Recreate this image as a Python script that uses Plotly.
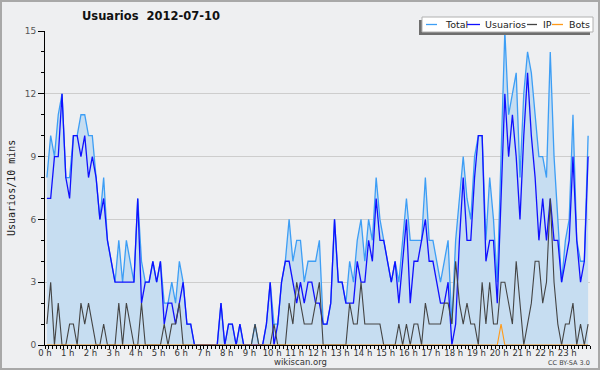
import plotly.graph_objects as go

# 10-minute slots, 0h00 .. 23h50 (144 points)
slot_hours = [(i + 0.5) / 6 for i in range(144)]

total = [8, 10, 9, 11, 12, 8, 8, 10, 10, 11,
         11, 10, 10, 8, 6, 8, 5, 4, 3, 5,
         3, 5, 4, 3, 7, 4, 3, 3, 4, 3,
         4, 2, 2, 3, 2, 4, 3, 1, 1, 0,
         0, 0, 0, 0, 0, 0, 2, 0, 1, 1,
         0, 1, 0, 0, 0, 1, 0, 0, 1, 3,
         1, 1, 3, 4, 6, 4, 5, 5, 3, 4,
         4, 4, 5, 1, 1, 2, 6, 3, 3, 2,
         4, 3, 5, 6, 4, 6, 5, 8, 6, 5,
         4, 3, 4, 3, 5, 7, 5, 5, 5, 5,
         8, 5, 5, 4, 3, 4, 5, 1, 5, 7,
         9, 7, 6, 9, 10, 10, 5, 8, 6, 3,
         9, 15, 11, 12, 13, 8, 12, 14, 13, 11,
         9, 9, 8, 14, 9, 6, 3, 5, 6, 11,
         5, 4, 4, 10]

usuarios = [7, 7, 9, 9, 12, 8, 7, 10, 10, 9,
            10, 8, 9, 8, 6, 7, 5, 4, 3, 3,
            3, 3, 3, 3, 7, 2, 3, 3, 4, 3,
            4, 1, 2, 2, 1, 2, 3, 1, 1, 0,
            0, 0, 0, 0, 0, 0, 2, 0, 1, 1,
            0, 1, 0, 0, 0, 0, 0, 0, 1, 3,
            0, 1, 3, 4, 4, 3, 2, 3, 2, 3,
            3, 2, 2, 1, 1, 2, 6, 3, 3, 2,
            2, 2, 4, 3, 3, 5, 4, 7, 5, 5,
            4, 3, 4, 2, 4, 6, 2, 4, 4, 5,
            6, 4, 4, 3, 2, 2, 3, 0, 1, 5,
            8, 5, 5, 8, 10, 10, 4, 5, 5, 2,
            7, 12, 9, 11, 9, 6, 10, 13, 10, 8,
            5, 7, 5, 7, 5, 5, 3, 4, 5, 9,
            5, 3, 4, 9]

ip = [1, 3, 0, 2, 0, 0, 1, 1, 0, 2,
      1, 2, 1, 0, 0, 1, 0, 0, 0, 2,
      0, 2, 1, 0, 0, 2, 0, 0, 0, 0,
      0, 1, 0, 1, 1, 2, 0, 0, 0, 0,
      0, 0, 0, 0, 0, 0, 0, 0, 0, 0,
      0, 0, 0, 0, 0, 1, 0, 0, 0, 0,
      1, 0, 0, 0, 2, 1, 3, 2, 1, 1,
      1, 2, 3, 0, 0, 0, 0, 0, 0, 0,
      2, 1, 1, 3, 1, 1, 1, 1, 1, 0,
      0, 0, 0, 1, 0, 1, 0, 1, 1, 0,
      2, 1, 1, 1, 1, 2, 2, 1, 4, 2,
      1, 2, 1, 1, 0, 3, 1, 3, 1, 1,
      3, 3, 2, 1, 4, 2, 0, 1, 2, 4,
      4, 2, 3, 7, 3, 1, 0, 1, 1, 2,
      0, 1, 0, 1]

bots = [0] * 120 + [1] + [0] * 23

hour_ticks = list(range(24))
hour_labels = [f"{h} h" for h in hour_ticks]

BG = "#eeeff1"
C_TOTAL = "#3d9ef5"
C_FILL = "#c6ddf1"
C_USU = "#1010ff"
C_IP = "#444444"
C_BOTS = "#ff9a1a"

fig = go.Figure()
fig.add_trace(go.Scatter(x=slot_hours, y=total, mode="lines", fill="tozeroy",
                         fillcolor=C_FILL, line=dict(color=C_TOTAL, width=1.3),
                         name="Total"))
fig.add_trace(go.Scatter(x=slot_hours, y=usuarios, mode="lines",
                         line=dict(color=C_USU, width=1.3), name="Usuarios"))
fig.add_trace(go.Scatter(x=slot_hours, y=ip, mode="lines",
                         line=dict(color=C_IP, width=1.1), name="IP"))
fig.add_trace(go.Scatter(x=slot_hours, y=bots, mode="lines",
                         line=dict(color=C_BOTS, width=1.1), name="Bots"))

L, R, T, B = 45, 10, 31, 25
W, H = 600, 370
PW, PH = W - L - R, H - T - B


def px(x):
    return (x - L) / PW


def py(y):
    return (H - B - y) / PH


shapes = []
annotations = []

# outer frame
shapes.append(dict(type="rect", xref="paper", yref="paper", x0=px(1), x1=px(599),
                   y0=py(1), y1=py(369), line=dict(color="#a8a8a8", width=2),
                   fillcolor="rgba(0,0,0,0)", layer="above"))

# legend shadow + box
shapes.append(dict(type="rect", xref="paper", yref="paper", x0=px(419), x1=px(590),
                   y0=py(35), y1=py(20), line=dict(width=0), fillcolor="#6e6e6e",
                   layer="above"))
shapes.append(dict(type="rect", xref="paper", yref="paper", x0=px(422), x1=px(593),
                   y0=py(32), y1=py(17), line=dict(color="#b0b0b0", width=1),
                   fillcolor="white", layer="above"))

legend_items = [("Total", C_TOTAL, 426, 437, 443),
                ("Usuarios", C_USU, 467, 480, 483),
                ("IP", C_IP, 527, 537, 541),
                ("Bots", C_BOTS, 552, 563, 567)]
for name, col, lx0, lx1, tx in legend_items:
    shapes.append(dict(type="line", xref="paper", yref="paper", x0=px(lx0), x1=px(lx1),
                       y0=py(24.5), y1=py(24.5), line=dict(color=col, width=1.3),
                       layer="above"))
    annotations.append(dict(text=name, xref="paper", yref="paper", x=px(tx), y=py(24.5),
                            xanchor="left", yanchor="middle", showarrow=False,
                            font=dict(size=9.5, color="#222", family="DejaVu Sans")))

annotations += [
    dict(text="<b>Usuarios&nbsp;&nbsp;2012-07-10</b>", xref="paper", yref="paper",
         x=px(151), y=py(16), xanchor="center", yanchor="middle", showarrow=False,
         font=dict(size=11.5, color="#111", family="DejaVu Sans")),
    dict(text="Usuarios/10 mins", xref="paper", yref="paper", x=px(11), y=0.5,
         xanchor="center", yanchor="middle", textangle=-90, showarrow=False,
         font=dict(size=10, color="#222", family="DejaVu Sans Mono")),
    dict(text="wikiscan.org", xref="paper", yref="paper", x=px(300), y=py(362),
         xanchor="center", yanchor="middle", showarrow=False,
         font=dict(size=8.5, color="#333", family="DejaVu Sans")),
    dict(text="CC BY-SA 3.0", xref="paper", yref="paper", x=px(569), y=py(363),
         xanchor="center", yanchor="middle", showarrow=False,
         font=dict(size=6.5, color="#444", family="DejaVu Sans")),
]

fig.update_layout(
    width=W, height=H, autosize=False,
    margin=dict(l=L, r=R, t=T, b=B, pad=0),
    paper_bgcolor=BG, plot_bgcolor=BG,
    showlegend=False,
    shapes=shapes, annotations=annotations,
    font=dict(family="DejaVu Sans", size=9, color="#333"),
)
fig.update_xaxes(range=[0, 24], tickvals=hour_ticks, ticktext=hour_labels,
                 automargin=False, ticklabelstandoff=-3,
                 showgrid=False, zeroline=False, showline=True, linecolor="black",
                 linewidth=1, ticks="outside", ticklen=3, tickcolor="black",
                 tickfont=dict(size=8.5, color="#333"),
                 minor=dict(dtick=1 / 6, tick0=0, ticks="outside", ticklen=3,
                            tickcolor="black", showgrid=False))
fig.update_yaxes(range=[0, 15], tickvals=[0, 3, 6, 9, 12, 15],
                 automargin=False,
                 showgrid=True, gridcolor="#cdcdcd", gridwidth=1, zeroline=False,
                 showline=True, linecolor="black", linewidth=1, ticks="outside",
                 ticklen=6, tickcolor="black", tickfont=dict(size=9, color="#555"),
                 minor=dict(dtick=1, tick0=0, ticks="outside", ticklen=3,
                            tickcolor="black", showgrid=False))

fig.write_html("out.html", config={"displayModeBar": False},
               post_script="document.body.style.margin='0';")
